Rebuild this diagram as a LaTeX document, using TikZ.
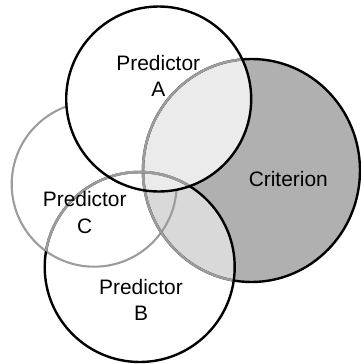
\documentclass[tikz,border=0pt]{standalone}
\usepackage{fontspec}
\setmainfont{Liberation Sans}
\definecolor{critdark}{HTML}{B0B0B0}
\definecolor{critmid}{HTML}{D9D9D9}
\definecolor{critlight}{HTML}{EBEBEB}
\definecolor{outgray}{HTML}{9C9C9C}
\begin{document}
\begin{tikzpicture}[x=1bp,y=-1bp,
  blk/.style={line width=2.4bp, draw=black},
  gry/.style={line width=2.1bp, draw=outgray},
  gryover/.style={line width=2.5bp, draw=outgray},
  lbl/.style={font=\fontsize{21}{26.7}\selectfont, align=center, inner sep=0pt, anchor=base}]
\useasboundingbox (0,0) rectangle (361,364);
\coordinate (cA) at (158.7,99);
\coordinate (cB) at (139.7,267);
\coordinate (cC) at (94.2,184.2);
\coordinate (cK) at (251.5,170.5);
% criterion fills
\fill[critdark] (cK) ellipse[x radius=108.5, y radius=111.5];
\begin{scope}
  \clip (cB) circle[radius=95];
  \fill[critmid] (cK) ellipse[x radius=108.5, y radius=111.5];
\end{scope}
% predictor C outline
\draw[gry] (cC) circle[radius=82.5];
% predictor A area
\fill[white] (cA) circle[radius=92.5];
\begin{scope}
  \clip (cA) circle[radius=92.5];
  \fill[critlight] (cK) ellipse[x radius=108.5, y radius=111.5];
\end{scope}
% criterion outline
\draw[blk] (cK) ellipse[x radius=108.5, y radius=111.5];
\begin{scope}
  \clip (cA) circle[radius=92.5];
  \draw[gryover] (cK) ellipse[x radius=108.5, y radius=111.5];
\end{scope}
\begin{scope}
  \clip (cB) circle[radius=95];
  \draw[gryover] (cK) ellipse[x radius=108.5, y radius=111.5];
\end{scope}
% predictor B outline
\draw[blk] (cB) circle[radius=95];
\begin{scope}
  \clip (cC) circle[radius=82.5];
  \draw[gryover] (cB) circle[radius=95];
\end{scope}
\begin{scope}
  \clip (cA) circle[radius=92.5];
  \draw[gryover] (cB) circle[radius=95];
\end{scope}
% predictor A outline
\draw[blk] (cA) circle[radius=92.5];
% labels (anchor at baseline of last line)
\node[lbl] (tA) at (158.3,96.7) {Predictor\\A};
\node[lbl] (tK) at (288.3,186) {Criterion};
\node[lbl] (tC) at (84.7,233) {Predictor\\C};
\node[lbl] (tB) at (141,320.7) {Predictor\\B};
\end{tikzpicture}
\end{document}
